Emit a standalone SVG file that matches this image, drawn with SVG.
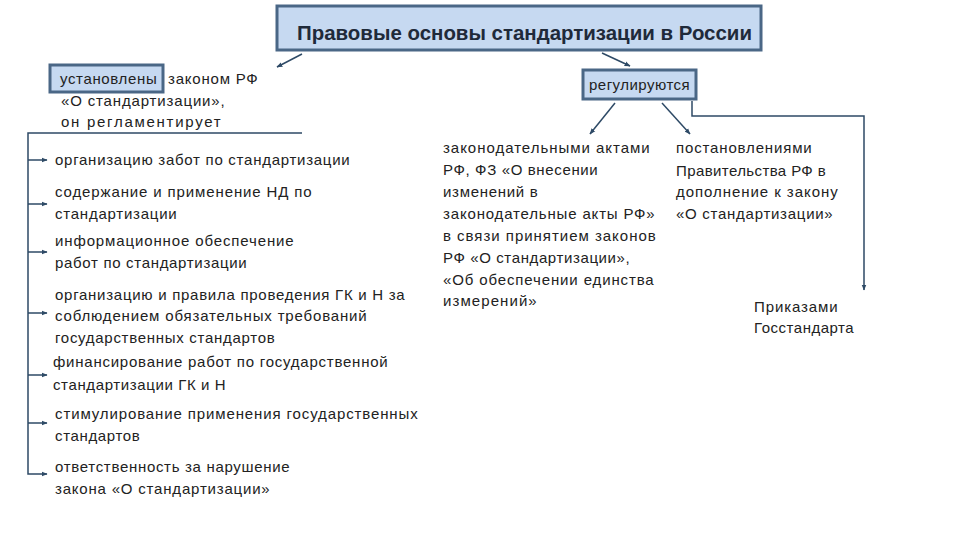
<svg xmlns="http://www.w3.org/2000/svg" width="960" height="540" viewBox="0 0 960 540">
<defs>
<style>
.t{font-family:"Liberation Sans",Arial,sans-serif;font-size:15px;fill:#222;letter-spacing:0.3px}
.title{font-family:"Liberation Sans",Arial,sans-serif;font-size:20px;fill:#1f2a3a;font-weight:bold}
.box{fill:#c6d9f1;stroke:#4a6786;stroke-width:3}
.ln{fill:none;stroke:#2e4a66;stroke-width:1.5}
</style>
<marker id="ah" viewBox="0 0 10 10" refX="9" refY="5" markerWidth="6" markerHeight="6" orient="auto" markerUnits="userSpaceOnUse">
<path d="M0,1 L10,5 L0,9 Z" fill="#2e4a66"/>
</marker>
</defs>
<rect width="960" height="540" fill="#fff"/>

<g id="title">
<rect class="box" x="277" y="6" width="484" height="44"/>
<text class="title" x="297" y="40" textLength="455" lengthAdjust="spacingAndGlyphs">Правовые основы стандартизации в России</text>
</g>

<g id="ustanovleny">
<rect class="box" x="50" y="65" width="113" height="27"/>
<text class="t" x="60" y="84" textLength="97">установлены</text>
<text class="t" x="168" y="84" textLength="90">законом РФ</text>
<text class="t" x="61" y="106" textLength="164">«О стандартизации»,</text>
<text class="t" x="61" y="127" textLength="160">он регламентирует</text>
</g>

<g id="reguliruyutsya">
<rect class="box" x="583" y="70" width="113" height="29"/>
<text class="t" x="589" y="90" textLength="101">регулируются</text>
</g>

<g id="item1"><text class="t" x="55" y="165" textLength="295">организацию забот по стандартизации</text></g>
<g id="item2">
<text class="t" x="55" y="197" textLength="257">содержание и применение НД по</text>
<text class="t" x="55" y="219" textLength="122">стандартизации</text>
</g>
<g id="item3">
<text class="t" x="55" y="246" textLength="239">информационное обеспечение</text>
<text class="t" x="55" y="268" textLength="192">работ по стандартизации</text>
</g>
<g id="item4">
<text class="t" x="55" y="300" textLength="350">организацию и правила проведения ГК и Н за</text>
<text class="t" x="55" y="321" textLength="312">соблюдением обязательных требований</text>
<text class="t" x="55" y="343" textLength="220">государственных стандартов</text>
</g>
<g id="item5">
<text class="t" x="53" y="367" textLength="335">финансирование работ по государственной</text>
<text class="t" x="53" y="390" textLength="173">стандартизации ГК и Н</text>
</g>
<g id="item6">
<text class="t" x="55" y="419" textLength="363">стимулирование применения государственных</text>
<text class="t" x="55" y="441" textLength="85">стандартов</text>
</g>
<g id="item7">
<text class="t" x="55" y="472" textLength="235">ответственность за нарушение</text>
<text class="t" x="55" y="494" textLength="215">закона «О стандартизации»</text>
</g>

<g id="acts">
<text class="t" x="443" y="153" textLength="207">законодательными актами</text>
<text class="t" x="443" y="175" textLength="155">РФ, ФЗ «О внесении</text>
<text class="t" x="443" y="197" textLength="95">изменений в</text>
<text class="t" x="443" y="219" textLength="212">законодательные акты РФ»</text>
<text class="t" x="443" y="241" textLength="213">в связи  принятием законов</text>
<text class="t" x="443" y="263" textLength="187">РФ «О стандартизации»,</text>
<text class="t" x="443" y="285" textLength="211">«Об обеспечении единства</text>
<text class="t" x="443" y="306" textLength="94">измерений»</text>
</g>

<g id="postanovleniya">
<text class="t" x="676" y="153" textLength="136">постановлениями</text>
<text class="t" x="676" y="176" textLength="150">Правительства РФ в</text>
<text class="t" x="676" y="197" textLength="162">дополнение к закону</text>
<text class="t" x="676" y="219" textLength="157">«О стандартизации»</text>
</g>

<g id="prikazy">
<text class="t" x="754" y="312" textLength="84">Приказами</text>
<text class="t" x="754" y="333" textLength="100">Госстандарта</text>
</g>

<g id="connectors">
<line class="ln" x1="302" y1="54" x2="277" y2="67" marker-end="url(#ah)"/>
<line class="ln" x1="602" y1="53" x2="630" y2="66" marker-end="url(#ah)"/>
<line class="ln" x1="615" y1="103" x2="590" y2="134" marker-end="url(#ah)"/>
<line class="ln" x1="662" y1="103" x2="690" y2="134" marker-end="url(#ah)"/>
<path class="ln" d="M692,101 V116 H864 V290" marker-end="url(#ah)"/>
<path class="ln" d="M302,133 H28 V474 H47" marker-end="url(#ah)"/>
<line class="ln" x1="28" y1="160" x2="47" y2="160" marker-end="url(#ah)"/>
<line class="ln" x1="28" y1="204" x2="47" y2="204" marker-end="url(#ah)"/>
<line class="ln" x1="28" y1="252" x2="47" y2="252" marker-end="url(#ah)"/>
<line class="ln" x1="28" y1="313" x2="47" y2="313" marker-end="url(#ah)"/>
<line class="ln" x1="28" y1="375" x2="47" y2="375" marker-end="url(#ah)"/>
<line class="ln" x1="28" y1="423" x2="47" y2="423" marker-end="url(#ah)"/>
</g>
</svg>
